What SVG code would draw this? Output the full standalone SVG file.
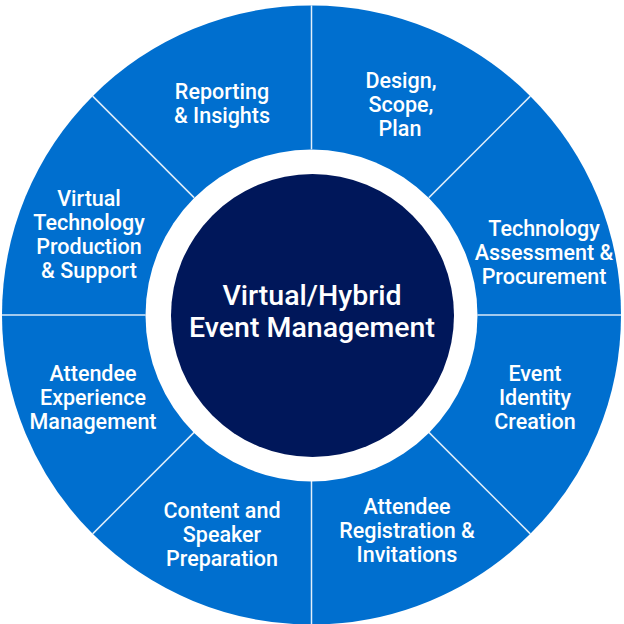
<svg xmlns="http://www.w3.org/2000/svg" width="624" height="624" viewBox="0 0 624 624">
<style>
.seg{fill:#006FCF}
.lbl{font-family:Roboto,"Liberation Sans",sans-serif;font-weight:500;font-size:21.5px;fill:#ffffff;text-anchor:middle}
.ctr{font-family:Roboto,"Liberation Sans",sans-serif;font-weight:500;font-size:28.5px;fill:#ffffff;text-anchor:middle}
.div{stroke:#ffffff;stroke-opacity:0.85;stroke-width:1.5;fill:none}
</style>
<rect width="624" height="624" fill="#ffffff"/>
<g id="design">
<path class="seg" d="M311.5 315 L311.5 5.5 A309.5 309.5 0 0 1 530.35 96.15 Z"/>
<text class="lbl"><tspan x="401" y="88">Design,</tspan><tspan x="401" y="112">Scope,</tspan><tspan x="400" y="136">Plan</tspan></text>
</g>
<g id="technology-assessment">
<path class="seg" d="M311.5 315 L530.35 96.15 A309.5 309.5 0 0 1 621 315 Z"/>
<text class="lbl"><tspan x="544" y="236">Technology</tspan><tspan x="544" y="260">Assessment &amp;</tspan><tspan x="544" y="284">Procurement</tspan></text>
</g>
<g id="event-identity">
<path class="seg" d="M311.5 315 L621 315 A309.5 309.5 0 0 1 530.35 533.85 Z"/>
<text class="lbl"><tspan x="535" y="381">Event</tspan><tspan x="535" y="405">Identity</tspan><tspan x="535" y="429">Creation</tspan></text>
</g>
<g id="attendee-registration">
<path class="seg" d="M311.5 315 L530.35 533.85 A309.5 309.5 0 0 1 311.5 624.5 Z"/>
<text class="lbl"><tspan x="407" y="514">Attendee</tspan><tspan x="407" y="538">Registration &amp;</tspan><tspan x="407" y="562">Invitations</tspan></text>
</g>
<g id="content-speaker">
<path class="seg" d="M311.5 315 L311.5 624.5 A309.5 309.5 0 0 1 92.65 533.85 Z"/>
<text class="lbl"><tspan x="222" y="518">Content and</tspan><tspan x="222" y="542">Speaker</tspan><tspan x="222" y="566">Preparation</tspan></text>
</g>
<g id="attendee-experience">
<path class="seg" d="M311.5 315 L92.65 533.85 A309.5 309.5 0 0 1 2 315 Z"/>
<text class="lbl"><tspan x="93" y="381">Attendee</tspan><tspan x="93" y="405">Experience</tspan><tspan x="93" y="429">Management</tspan></text>
</g>
<g id="virtual-technology">
<path class="seg" d="M311.5 315 L2 315 A309.5 309.5 0 0 1 92.65 96.15 Z"/>
<text class="lbl"><tspan x="89" y="206">Virtual</tspan><tspan x="89" y="230">Technology</tspan><tspan x="89" y="254">Production</tspan><tspan x="89" y="278">&amp; Support</tspan></text>
</g>
<g id="reporting">
<path class="seg" d="M311.5 315 L92.65 96.15 A309.5 309.5 0 0 1 311.5 5.5 Z"/>
<text class="lbl"><tspan x="222" y="99">Reporting</tspan><tspan x="222" y="123">&amp; Insights</tspan></text>
</g>
<g id="connectors">
<line class="div" x1="311.5" y1="5.5" x2="311.5" y2="149"/>
<line class="div" x1="530.35" y1="96.15" x2="428.88" y2="197.62"/>
<line class="div" x1="621" y1="315" x2="477.5" y2="315"/>
<line class="div" x1="530.35" y1="533.85" x2="428.88" y2="432.38"/>
<line class="div" x1="311.5" y1="624.5" x2="311.5" y2="481"/>
<line class="div" x1="92.65" y1="533.85" x2="194.12" y2="432.38"/>
<line class="div" x1="2" y1="315" x2="145.5" y2="315"/>
<line class="div" x1="92.65" y1="96.15" x2="194.12" y2="197.62"/>
</g>
<g id="center">
<circle cx="311.5" cy="315.5" r="166" fill="#ffffff"/>
<circle cx="312.5" cy="315.5" r="141.5" fill="#00175A"/>
<text class="ctr"><tspan x="312" y="305">Virtual/Hybrid</tspan><tspan x="312" y="337">Event Management</tspan></text>
</g>
</svg>
